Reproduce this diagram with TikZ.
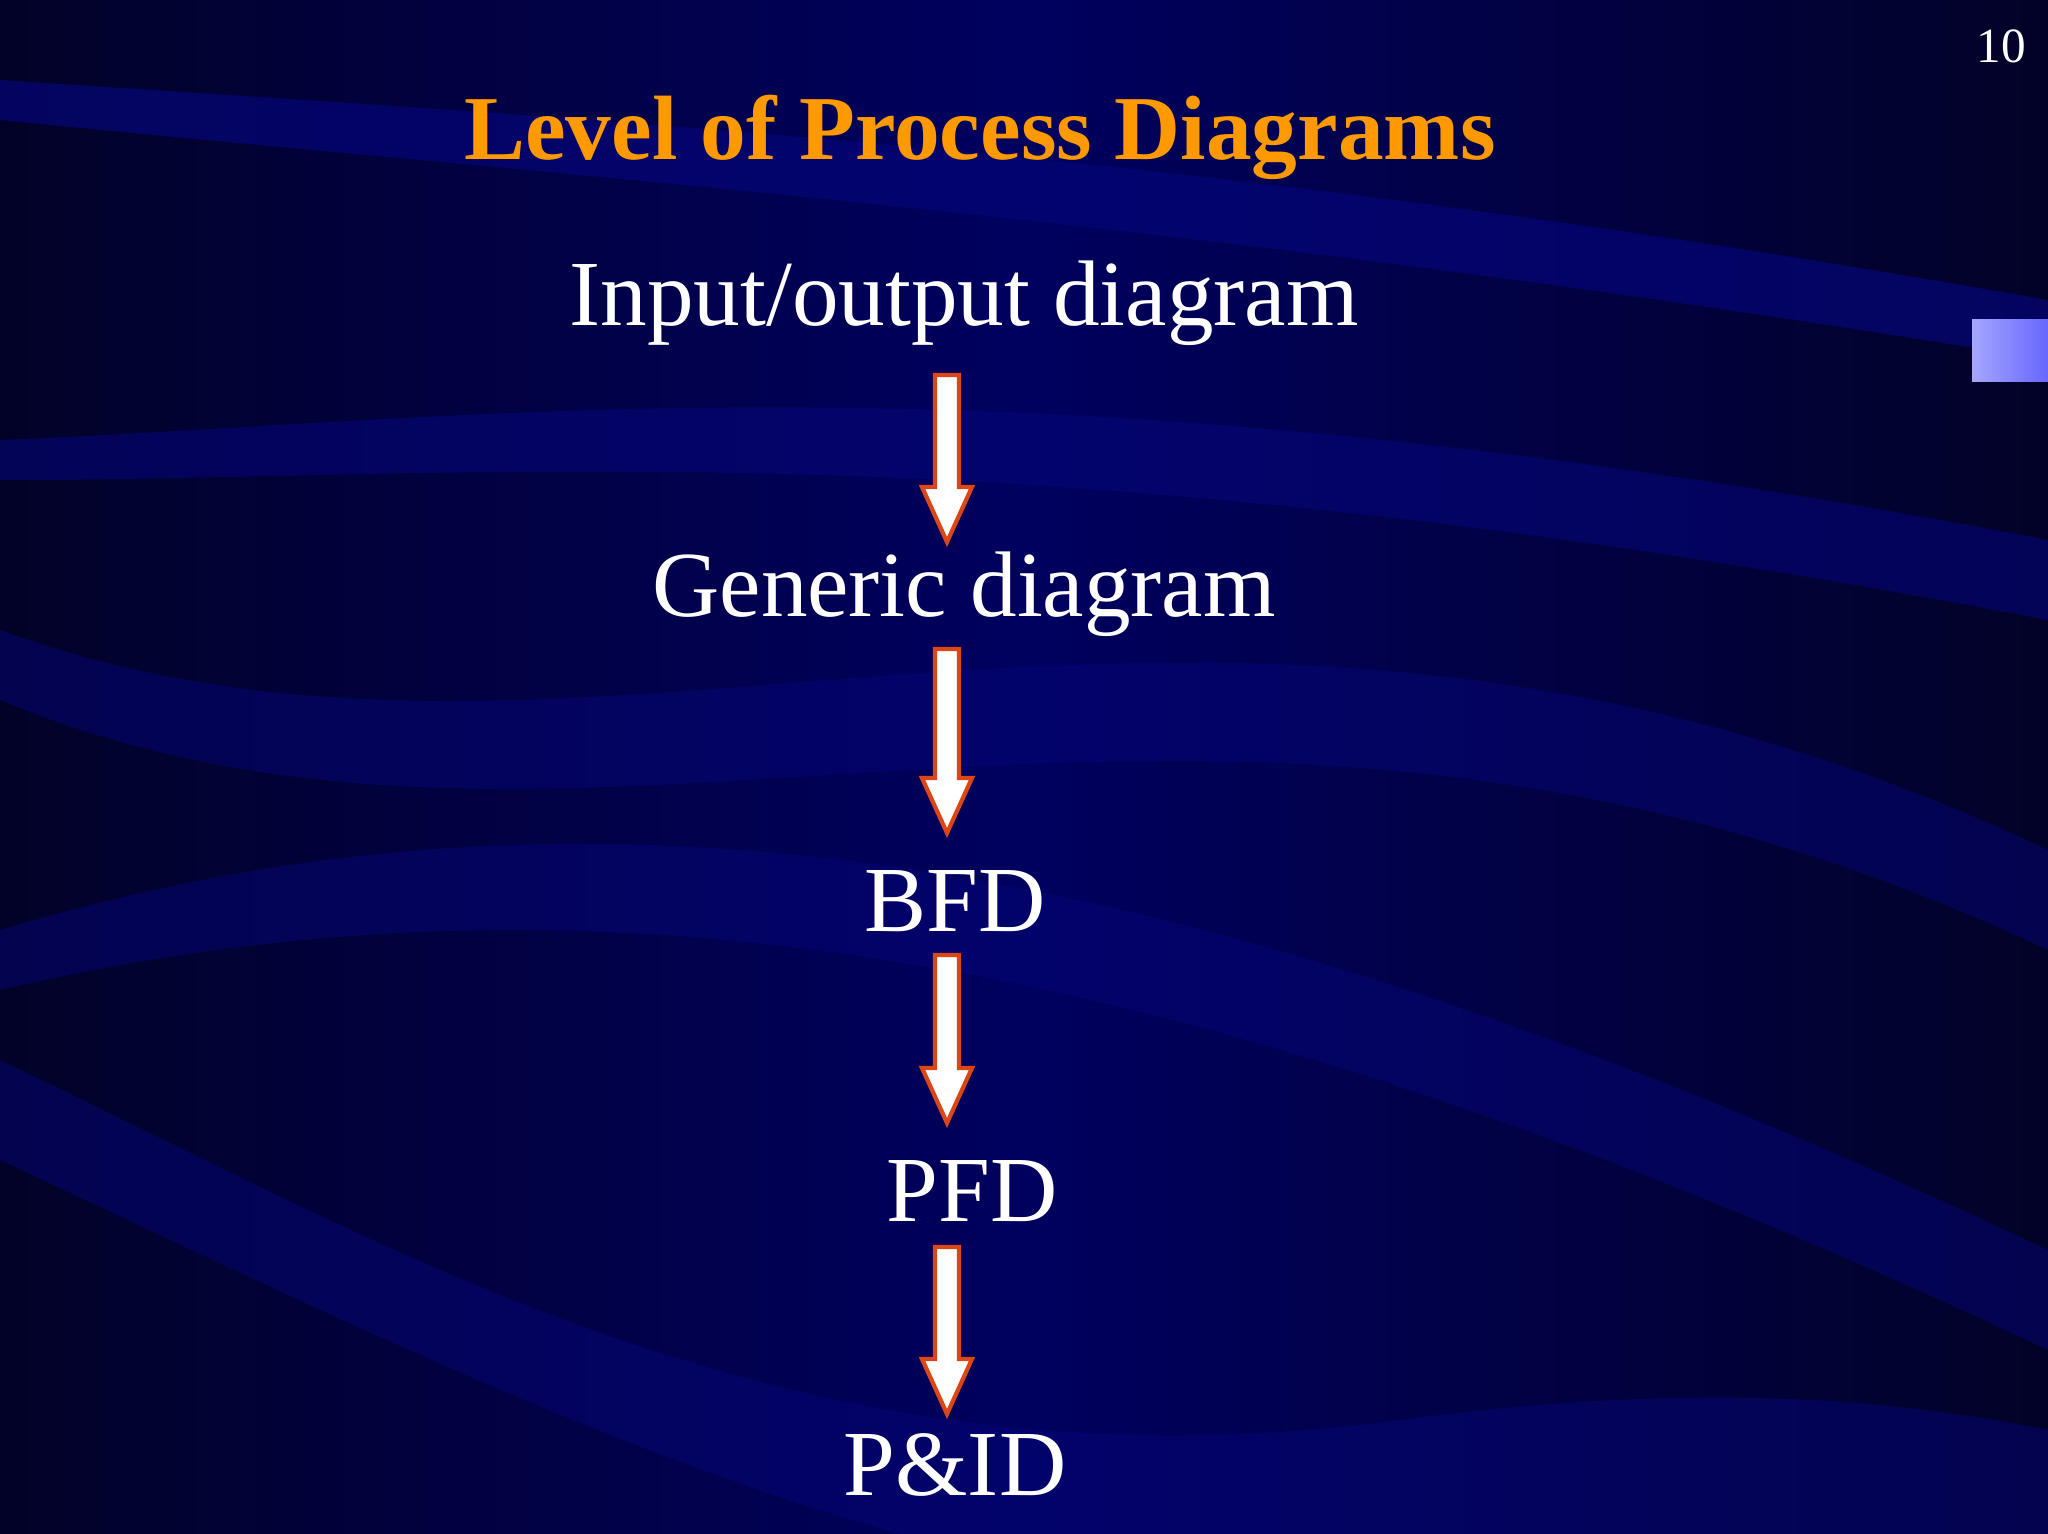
\documentclass[tikz,border=0pt]{standalone}
\usepackage{fontspec}
\setmainfont{Liberation Serif}
\definecolor{bgdark}{RGB}{2,2,40}
\definecolor{bgmid}{RGB}{0,0,95}
\definecolor{band}{RGB}{5,5,120}
\definecolor{titleorange}{RGB}{255,153,0}
\definecolor{arrowedge}{RGB}{220,70,20}
\tikzset{
  lbl/.style={text=white,font=\fontsize{26.5}{30}\selectfont,inner sep=0pt},
  blockarrow/.style={draw=arrowedge,fill=white,line width=1.2pt,line join=miter}
}
\newcommand{\blockarr}[2]{% top coordinate, bottom coordinate
  \draw[blockarrow] ([xshift=-0.12cm]#1) -- ([xshift=0.12cm]#1)
    -- ([xshift=0.12cm,yshift=0.55cm]#2) -- ([xshift=0.25cm,yshift=0.55cm]#2)
    -- (#2) -- ([xshift=-0.25cm,yshift=0.55cm]#2) -- ([xshift=-0.12cm,yshift=0.55cm]#2) -- cycle;}
\begin{document}
\begin{tikzpicture}[x=1cm,y=1cm]
\useasboundingbox (0,0) rectangle (20.48,-15.34);
\shade[left color=bgdark,right color=bgdark,middle color=bgmid] (0,0) rectangle (20.48,-15.34);
\fill[band,opacity=0.7] (0,-1.2) .. controls (6,-1.8) and (12,-2.2) .. (20.48,-3.6) -- (20.48,-3.0) .. controls (12,-1.5) and (6,-1.2) .. (0,-0.8) -- cycle;
\fill[band,opacity=0.6] (0,-4.4) .. controls (5,-4.2) and (10,-3.4) .. (20.48,-5.4) -- (20.48,-6.2) .. controls (10,-4.2) and (5,-4.8) .. (0,-4.8) -- cycle;
\fill[band,opacity=0.5] (0,-6.3) .. controls (6,-8.5) and (12,-4.5) .. (20.48,-8.5) -- (20.48,-9.5) .. controls (12,-5.5) and (6,-9.5) .. (0,-7.0) -- cycle;
\fill[band,opacity=0.5] (0,-9.3) .. controls (6,-7.5) and (12,-8.5) .. (20.48,-12.5) -- (20.48,-13.5) .. controls (12,-9.5) and (6,-8.5) .. (0,-9.9) -- cycle;
\fill[band,opacity=0.5] (0,-10.6) .. controls (4,-12.5) and (8,-15) .. (14,-14.2) .. controls (17,-13.8) and (19,-14) .. (20.48,-14.3) -- (20.48,-15.34) -- (9,-15.34) .. controls (6,-14.5) and (3,-13) .. (0,-11.6) -- cycle;
\shade[left color=blue!35!white,right color=blue!60!white] (19.72,-3.2) rectangle (20.48,-3.82);
\node[text=white,font=\fontsize{14}{16}\selectfont,inner sep=0pt] (num) at (20.01,-0.46) {10};
\node[text=titleorange,font=\bfseries\fontsize{26}{30}\selectfont,inner sep=0pt] (title) at (9.80,-1.37) {Level of Process Diagrams};
\node[lbl] (io) at (9.64,-3.03) {Input/output diagram};
\node[lbl] (gen) at (9.64,-5.94) {Generic diagram};
\node[lbl] (bfd) at (9.55,-9.01) {BFD};
\node[lbl] (pfd) at (9.72,-11.91) {PFD};
\node[lbl] (pid) at (9.55,-14.65) {P\&ID};
\coordinate (t1) at (9.47,-3.75); \coordinate (b1) at (9.47,-5.42);
\coordinate (t2) at (9.47,-6.49); \coordinate (b2) at (9.47,-8.33);
\coordinate (t3) at (9.47,-9.55); \coordinate (b3) at (9.47,-11.23);
\coordinate (t4) at (9.47,-12.47); \coordinate (b4) at (9.47,-14.14);
\blockarr{t1}{b1}
\blockarr{t2}{b2}
\blockarr{t3}{b3}
\blockarr{t4}{b4}
\end{tikzpicture}
\end{document}
